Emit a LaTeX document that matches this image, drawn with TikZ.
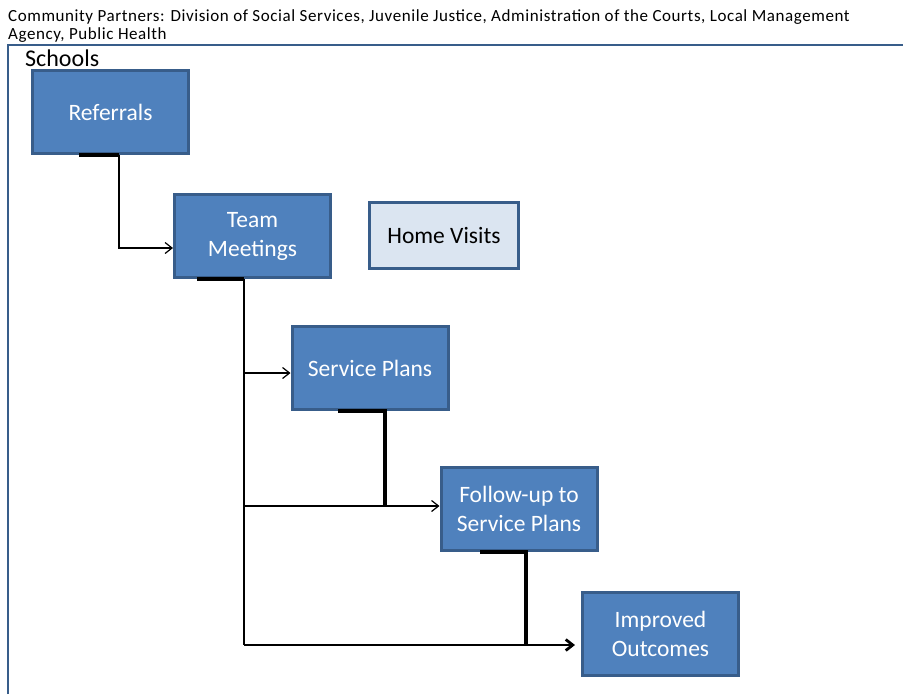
\documentclass[tikz,border=0pt]{standalone}
\usepackage{fontspec}
\setmainfont{Carlito}
\usetikzlibrary{arrows.meta}
\definecolor{boxblue}{HTML}{4F81BD}
\definecolor{edgeblue}{HTML}{385D8A}
\definecolor{paleblue}{HTML}{DBE5F1}
\tikzset{
  stage/.style={draw=edgeblue, line width=3pt, fill=boxblue, text=white,
    minimum width=156pt, minimum height=83pt, align=center, inner sep=0pt,
    font=\fontsize{23.5}{29}\selectfont},
  link/.style={line width=1.2pt},
  bar/.style={line width=3.5pt},
  caption/.style={anchor=base west, inner sep=0pt}
}

\begin{document}
\begin{tikzpicture}[x=1pt,y=-1pt, >={Straight Barb[length=7pt,width=11pt]}]
        \useasboundingbox (0,0) rectangle (903,694);
        \draw[edgeblue, line width=2.5pt] (8,694) -- (8,45) -- (903,45);

        \node[caption, font=\fontsize{17}{19}\selectfont\addfontfeature{LetterSpace=3.4}] (partners) at (8,21) {Community Partners: Division of Social Services, Juvenile Justice, Administration of the Courts, Local Management};
        \node[caption, font=\fontsize{17}{19}\selectfont\addfontfeature{LetterSpace=3.4}] (partners2) at (8,39) {Agency, Public Health};
        \node[caption, font=\fontsize{24}{28}\selectfont] (schools) at (25,66) {Schools};

        \node[stage] (ref) at (110.5,112) {Referrals};
        \node[stage] (team) at (252.5,236) {Team\\Meetings};
        \node[stage, fill=paleblue, text=black, minimum width=149pt, minimum height=66pt] (home) at (444,235.5) {Home Visits};
        \node[stage] (serv) at (370,368) {Service Plans};
        \node[stage] (foll) at (519,509) {Follow-up to\\Service Plans};
        \node[stage] (impr) at (660.5,633.5) {Improved\\Outcomes};

        \coordinate (trunk) at ([xshift=-8.5]team.south);
        \coordinate (toserv) at ([yshift=-5]serv.west);
        \coordinate (tofoll) at ([yshift=3]foll.west);
        \coordinate (toimpr) at ([yshift=-11.5]impr.west);

        \draw[bar] ([xshift=-31.5]ref.south) -- ([xshift=8.5]ref.south);
        \draw[link, ->] ([xshift=8.5]ref.south) |- ([yshift=-12]team.west);

        \draw[bar] ([xshift=-55.5]team.south) -- (trunk);
        \draw[link] (trunk) -- (trunk |- toimpr);
        \draw[link, ->] (trunk |- toserv) -- (toserv);
        \draw[link, ->] (trunk |- tofoll) -- (tofoll);
        \draw[line width=2.8pt, ->, shorten >=6pt] (trunk |- toimpr) -- (toimpr);

        \draw[bar] ([xshift=-32]serv.south) -- ([xshift=15]serv.south) -- ([xshift=15]serv.south |- tofoll);
        \draw[bar] ([xshift=-39]foll.south) -- ([xshift=7]foll.south) -- ([xshift=7]foll.south |- toimpr);
\end{tikzpicture}
\end{document}
